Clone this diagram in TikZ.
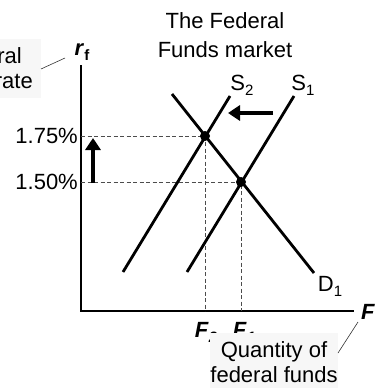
\documentclass[tikz,border=0pt]{standalone}
\usepackage{fontspec}
\setmainfont{Liberation Sans}
\usetikzlibrary{arrows.meta}
\newcommand{\mysub}[1]{\raisebox{-5pt}{\fontsize{15}{15}\selectfont #1}}
\begin{document}
\begin{tikzpicture}[x=1pt,y=-1pt,
  txt/.style={inner sep=0pt,font=\fontsize{22}{25}\selectfont},
  curve/.style={line width=2.8pt},
  axis/.style={line width=1.6pt},
  guide/.style={dash pattern=on 4pt off 2.5pt,line width=0.8pt,black!70},
  bigarrow/.style={line width=4pt,-{Triangle[length=12pt,width=15pt]}},
  graybox/.style={fill=black!3,draw=none},
  leader/.style={line width=0.6pt,black!80},
  dot/.style={circle,fill=black,inner sep=0pt,minimum size=10pt}]
\useasboundingbox (0,0) rectangle (380,388);
\clip (0,0) rectangle (380,388);
% title
\node[txt,align=center,font=\fontsize{22}{29}\selectfont] (title) at (225,35) {The Federal\\Funds market};
% axes
\coordinate (o) at (81,311);
\coordinate (ytop) at (81,65);
\coordinate (xend) at (354,311);
\draw[axis] (ytop) -- (o) -- (xend);
% equilibria
\coordinate (e2) at (205,136);
\coordinate (e1) at (241,182);
\coordinate (yl2) at (81,136);
\coordinate (yl1) at (81,182);
\coordinate (xb2) at (205,311);
\coordinate (xb1) at (241,311);
\draw[guide] (yl2) -- (e2) -- (xb2);
\draw[guide] (yl1) -- (e1) -- (xb1);
% curves
\coordinate (s2a) at (123,272);
\coordinate (s2b) at (230,96);
\coordinate (s1a) at (187,272);
\coordinate (s1b) at (294,96);
\coordinate (d1a) at (172,94);
\coordinate (d1b) at (314,273);
\draw[curve] (s2a) -- (s2b);
\draw[curve] (s1a) -- (s1b);
\draw[curve] (d1a) -- (d1b);
\node[dot] (p2) at (e2) {};
\node[dot] (p1) at (e1) {};
% curve labels
\node[txt] (ls2) at (242,85) {S\mysub{2}};
\node[txt] (ls1) at (303,85) {S\mysub{1}};
\node[txt] (ld1) at (330,286) {D\mysub{1}};
% arrows
\coordinate (la) at (273,113);
\coordinate (lb) at (228,113);
\draw[bigarrow] (la) -- (lb);
\coordinate (ua) at (93,183);
\coordinate (ub) at (93,138);
\draw[bigarrow] (ua) -- (ub);
% y tick labels
\node[txt,anchor=east] (t175) at (78,136) {1.75\%};
\node[txt,anchor=east] (t150) at (78,182) {1.50\%};
% axis labels
\node[txt] (rf) at (82,52) {\textbf{\textit{r}}\mysub{\textbf{f}}};
\node[txt] (lF) at (368,312) {\textbf{\textit{F}}};
\node[txt] (lF2) at (206,332) {\textbf{\textit{F}}\mysub{\textbf{\textit{2}}}};
\node[txt] (lF1) at (244,332) {\textbf{\textit{F}}\mysub{\textbf{\textit{1}}}};
% gray boxes
\fill[graybox] (210,333) rectangle (338,388);
\node[txt,align=center] (qty) at (274,362) {Quantity of\\federal funds};
\fill[graybox] (0,39) rectangle (41,98);
\node[txt,anchor=base east] (fed1) at (22,63) {Federal};
\node[txt,anchor=base east] (fed2) at (33,88) {funds rate};
% leaders
\coordinate (lq) at (338,353);
\coordinate (lqe) at (358,322);
\draw[leader] (lq) -- (lqe);
\coordinate (lr) at (41,69);
\coordinate (lre) at (65,58);
\draw[leader] (lr) -- (lre);
\end{tikzpicture}
\end{document}
